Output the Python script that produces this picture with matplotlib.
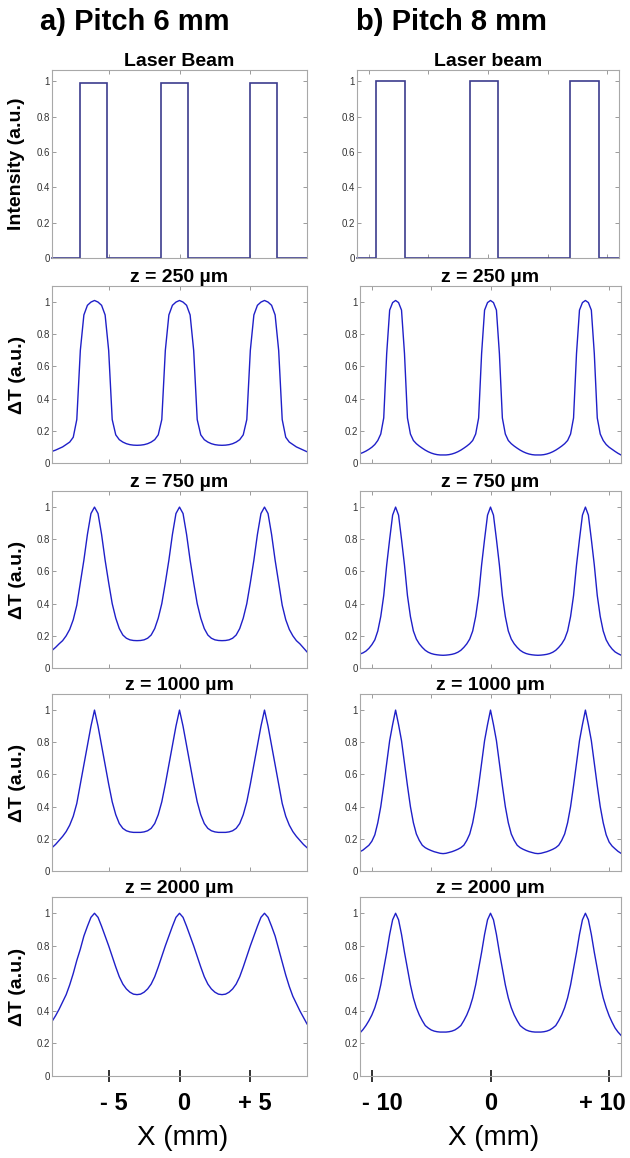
import numpy as np
import matplotlib
matplotlib.use("Agg")
import matplotlib.pyplot as plt
import matplotlib.transforms as mtransforms

plt.rcParams['font.family'] = ['Liberation Sans', 'DejaVu Sans']

# ---------------- data ----------------
col_titles = ["a) Pitch 6 mm", "b) Pitch 8 mm"]
row_titles_left = ["Laser Beam", "z = 250 µm", "z = 750 µm", "z = 1000 µm", "z = 2000 µm"]
row_titles_right = ["Laser beam", "z = 250 µm", "z = 750 µm", "z = 1000 µm", "z = 2000 µm"]
ytick_vals = [0, 0.2, 0.4, 0.6, 0.8, 1]
ytick_labels = ["0", "0.2", "0.4", "0.6", "0.8", "1"]

# laser beam (top hat) edges in mm
beam_left_start = [-7.0, -1.3, 4.95]
beam_left_end = [-5.1, 0.6, 6.9]
beam_left_height = 0.99
beam_right_start = [-9.37, -1.55, 6.9]
beam_right_end = [-6.97, 0.8, 9.28]
beam_right_height = 1.0

# x sampling grids (mm)
x_left = np.arange(-9, 9.001, 0.25)
x_right = np.arange(-11, 11.001, 0.25)

# pitch 6 mm, normalised temperature rise
L250 = [0.072, 0.08, 0.09, 0.10, 0.115, 0.13, 0.16, 0.27, 0.70, 0.92, 0.98, 1.0,
        1.01,
        1.0, 0.98, 0.92, 0.70, 0.27, 0.175, 0.145, 0.13, 0.12, 0.114, 0.111, 0.11,
        0.111, 0.114, 0.12, 0.13, 0.145, 0.175, 0.27, 0.70, 0.92, 0.98, 1.0,
        1.01,
        1.0, 0.98, 0.92, 0.70, 0.27, 0.175, 0.145, 0.13, 0.12, 0.114, 0.111,
        0.11,
        0.111, 0.114, 0.12, 0.13, 0.145, 0.175, 0.27, 0.70, 0.92, 0.98, 1.0,
        1.01,
        1.0, 0.98, 0.92, 0.70, 0.27, 0.16, 0.13, 0.115, 0.10, 0.09, 0.08, 0.07]
L750 = [0.109, 0.128, 0.15, 0.17, 0.20, 0.24, 0.30, 0.39, 0.53, 0.67, 0.83, 0.96,
        1.0,
        0.96, 0.83, 0.67, 0.53, 0.40, 0.31, 0.245, 0.205, 0.185, 0.175, 0.171, 0.17,
        0.171, 0.175, 0.185, 0.205, 0.245, 0.31, 0.40, 0.53, 0.67, 0.83, 0.96,
        1.0,
        0.96, 0.83, 0.67, 0.53, 0.40, 0.31, 0.245, 0.205, 0.185, 0.175, 0.171,
        0.17,
        0.171, 0.175, 0.185, 0.205, 0.245, 0.31, 0.40, 0.53, 0.67, 0.83, 0.96,
        1.0,
        0.96, 0.83, 0.67, 0.53, 0.39, 0.30, 0.24, 0.20, 0.17, 0.15, 0.125, 0.10]
L1000 = [0.145, 0.165, 0.19, 0.215, 0.245, 0.285, 0.34, 0.42, 0.54, 0.66, 0.78, 0.90,
         1.0,
         0.90, 0.78, 0.66, 0.54, 0.43, 0.35, 0.295, 0.265, 0.25, 0.243, 0.24, 0.24,
         0.24, 0.243, 0.25, 0.265, 0.295, 0.35, 0.43, 0.54, 0.66, 0.78, 0.90,
         1.0,
         0.90, 0.78, 0.66, 0.54, 0.43, 0.35, 0.295, 0.265, 0.25, 0.243, 0.24,
         0.24,
         0.24, 0.243, 0.25, 0.265, 0.295, 0.35, 0.43, 0.54, 0.66, 0.78, 0.90,
         1.0,
         0.90, 0.78, 0.66, 0.54, 0.42, 0.34, 0.285, 0.245, 0.215, 0.19, 0.165, 0.145]
L2000 = [0.335, 0.37, 0.41, 0.455, 0.50, 0.56, 0.63, 0.71, 0.78, 0.86, 0.92, 0.975,
         1.0,
         0.975, 0.92, 0.86, 0.80, 0.735, 0.67, 0.61, 0.565, 0.535, 0.515, 0.503, 0.50,
         0.503, 0.515, 0.535, 0.565, 0.61, 0.67, 0.735, 0.80, 0.86, 0.92, 0.975,
         1.0,
         0.975, 0.92, 0.86, 0.80, 0.735, 0.67, 0.61, 0.565, 0.535, 0.515, 0.503,
         0.50,
         0.503, 0.515, 0.535, 0.565, 0.61, 0.67, 0.735, 0.80, 0.86, 0.92, 0.975,
         1.0,
         0.975, 0.92, 0.86, 0.78, 0.70, 0.62, 0.55, 0.49, 0.445, 0.40, 0.36, 0.32]

# pitch 8 mm, normalised temperature rise
R250 = [0.058, 0.065, 0.074, 0.085, 0.098, 0.115, 0.14, 0.18, 0.28, 0.68, 0.95, 0.997,
        1.01,
        0.997, 0.95, 0.68, 0.28, 0.18, 0.14, 0.12, 0.105, 0.092, 0.08, 0.07, 0.062, 0.056, 0.052, 0.05, 0.05,
        0.05, 0.052, 0.056, 0.062, 0.07, 0.08, 0.092, 0.105, 0.12, 0.14, 0.18, 0.28, 0.68, 0.95, 0.997,
        1.01,
        0.997, 0.95, 0.68, 0.28, 0.18, 0.14, 0.12, 0.105, 0.092, 0.08, 0.07, 0.062, 0.056, 0.052, 0.05,
        0.05,
        0.05, 0.052, 0.056, 0.062, 0.07, 0.08, 0.092, 0.105, 0.12, 0.14, 0.18, 0.28, 0.68, 0.95, 0.997,
        1.01,
        0.997, 0.95, 0.68, 0.28, 0.18, 0.14, 0.115, 0.098, 0.085, 0.072, 0.06, 0.05]
R750 = [0.087, 0.094, 0.105, 0.122, 0.145, 0.175, 0.23, 0.32, 0.45, 0.64, 0.80, 0.95,
        1.0,
        0.95, 0.80, 0.64, 0.45, 0.32, 0.23, 0.18, 0.15, 0.128, 0.11, 0.098, 0.09, 0.085, 0.082, 0.08, 0.079,
        0.08, 0.082, 0.085, 0.09, 0.098, 0.11, 0.128, 0.15, 0.18, 0.23, 0.32, 0.45, 0.64, 0.80, 0.95,
        1.0,
        0.95, 0.80, 0.64, 0.45, 0.32, 0.23, 0.18, 0.15, 0.128, 0.11, 0.098, 0.09, 0.085, 0.082, 0.08,
        0.079,
        0.08, 0.082, 0.085, 0.09, 0.098, 0.11, 0.128, 0.15, 0.18, 0.23, 0.32, 0.45, 0.64, 0.80, 0.95,
        1.0,
        0.95, 0.80, 0.64, 0.45, 0.32, 0.23, 0.175, 0.142, 0.118, 0.10, 0.089, 0.08]
R1000 = [0.12, 0.13, 0.145, 0.16, 0.185, 0.225, 0.30, 0.40, 0.53, 0.67, 0.81, 0.91,
         1.0,
         0.91, 0.81, 0.67, 0.53, 0.40, 0.30, 0.23, 0.19, 0.16, 0.145, 0.135, 0.127, 0.12, 0.115, 0.11, 0.108,
         0.11, 0.115, 0.12, 0.127, 0.135, 0.145, 0.16, 0.19, 0.23, 0.30, 0.40, 0.53, 0.67, 0.81, 0.91,
         1.0,
         0.91, 0.81, 0.67, 0.53, 0.40, 0.30, 0.23, 0.19, 0.16, 0.145, 0.135, 0.127, 0.12, 0.115, 0.11,
         0.108,
         0.11, 0.115, 0.12, 0.127, 0.135, 0.145, 0.16, 0.19, 0.23, 0.30, 0.40, 0.53, 0.67, 0.81, 0.91,
         1.0,
         0.91, 0.81, 0.67, 0.53, 0.40, 0.30, 0.225, 0.18, 0.155, 0.138, 0.122, 0.11]
R2000 = [0.265, 0.285, 0.31, 0.34, 0.375, 0.42, 0.48, 0.56, 0.66, 0.76, 0.87, 0.96,
         1.0,
         0.96, 0.87, 0.76, 0.66, 0.56, 0.48, 0.42, 0.375, 0.34, 0.31, 0.295, 0.283, 0.276, 0.272, 0.27, 0.27,
         0.27, 0.272, 0.276, 0.283, 0.295, 0.31, 0.34, 0.375, 0.42, 0.48, 0.56, 0.66, 0.76, 0.87, 0.96,
         1.0,
         0.96, 0.87, 0.76, 0.66, 0.56, 0.48, 0.42, 0.375, 0.34, 0.31, 0.295, 0.283, 0.276, 0.272, 0.27,
         0.27,
         0.27, 0.272, 0.276, 0.283, 0.295, 0.31, 0.34, 0.375, 0.42, 0.48, 0.56, 0.66, 0.76, 0.87, 0.96,
         1.0,
         0.96, 0.87, 0.76, 0.66, 0.56, 0.48, 0.42, 0.37, 0.33, 0.295, 0.27, 0.25]

left_curves = [L250, L750, L1000, L2000]
right_curves = [R250, R750, R1000, R2000]

bottom_ticks_left = [-5, 0, 5]
bottom_labels_left = ["- 5", "0", "+ 5"]
bottom_ticks_right = [-10, 0, 10]
bottom_labels_right = ["- 10", "0", "+ 10"]

# ---------------- layout ----------------
W, H = 630, 1158
fig = plt.figure(figsize=(W / 100, H / 100), dpi=100)
fig.patch.set_facecolor("white")


def axes_px(l, r, t, b):
    return fig.add_axes([l / W, 1 - b / H, (r - l) / W, (b - t) / H])


rows = [(70, 258), (286, 463), (491, 668), (694, 871), (897, 1076)]
cols = [(52, 307), (360, 621)]
top_right_cols = (357, 619)
# hand-placed label shifts (pixels) seen in the reference
label_shift = [[5, 4, 4], [11, 0, -7]]

LINE_C = "#1f1fc8"
BEAM_C = "#3c3c8e"
SPINE_C = "#a8a8a8"


def style(ax, xlim, xticks, ylim):
    ax.set_xlim(*xlim)
    ax.set_ylim(*ylim)
    ax.set_yticks(ytick_vals)
    ax.set_yticklabels(ytick_labels)
    ax.set_xticks(xticks)
    ax.set_xticklabels([])
    ax.tick_params(direction="in", length=3, width=0.6, color="#8a8a8a",
                   top=True, right=True, labelsize=7, labelcolor="#333333", pad=1.5)
    for s in ax.spines.values():
        s.set_color(SPINE_C)
        s.set_linewidth(0.8)


def beam_path(starts, ends, h, xmin, xmax):
    xs, ys = [xmin], [0]
    for s, e in zip(starts, ends):
        xs += [s, s, e, e]
        ys += [0, h, h, 0]
    xs.append(xmax)
    ys.append(0)
    return xs, ys


col_specs = [
    dict(x=x_left, curves=left_curves, xlim=(-9, 9), xticks=[-5, 0, 5],
         bstart=beam_left_start, bend=beam_left_end, bh=beam_left_height,
         titles=row_titles_left, bt=bottom_ticks_left, bl=bottom_labels_left),
    dict(x=x_right, curves=right_curves, xlim=(-11, 11), xticks=[-10, -5, 0, 5, 10],
         bstart=beam_right_start, bend=beam_right_end, bh=beam_right_height,
         titles=row_titles_right, bt=bottom_ticks_right, bl=bottom_labels_right),
]

for ci, spec in enumerate(col_specs):
    l, r = cols[ci]
    for ri, (t, b) in enumerate(rows):
        if ri == 0 and ci == 1:
            ax = axes_px(top_right_cols[0], top_right_cols[1], t, b)
        else:
            ax = axes_px(l, r, t, b)
        if ri == 0:
            style(ax, spec["xlim"], spec["xticks"], (0, 1.065))
            bx, by = beam_path(spec["bstart"], spec["bend"], spec["bh"], *spec["xlim"])
            ax.plot(bx, by, color=BEAM_C, lw=1.2, solid_joinstyle="miter", clip_on=False)
            ax.set_title(spec["titles"][ri], fontsize=14, fontweight="bold", pad=3)
        else:
            style(ax, spec["xlim"], spec["xticks"], (0, 1.1))
            ax.plot(spec["x"], spec["curves"][ri - 1], color=LINE_C, lw=1.0)
            ax.set_title(spec["titles"][ri], fontsize=14, fontweight="bold", pad=1.5)
        if ci == 0:
            lab = "Intensity (a.u.)" if ri == 0 else "ΔT (a.u.)"
            fig.text(17 / W, 1 - ((t + b) / 2) / H, lab, rotation=90, fontsize=14,
                     fontweight="bold", ha="center", va="center")
        if ri == len(rows) - 1:
            ax.set_xticks(spec["bt"])
            ax.set_xticklabels(spec["bl"])
            ax.tick_params(axis="x", which="major", direction="inout", length=9, width=1.4,
                           color="#333333", top=False, labelsize=17, labelcolor="black", pad=7)
            for tl, dx in zip(ax.get_xticklabels(), label_shift[ci]):
                tl.set_fontweight("bold")
                tl.set_transform(tl.get_transform() +
                                 mtransforms.ScaledTranslation(dx / 100, 0, fig.dpi_scale_trans))
            fig.text(((l + r) / 2 + 3) / W, 1 - 1138 / H, "X (mm)", fontsize=20,
                     ha="center", va="center")

fig.text(135 / W, 1 - 30 / H, col_titles[0], fontsize=21, fontweight="bold",
         ha="center", va="baseline")
fig.text(451 / W, 1 - 30 / H, col_titles[1], fontsize=21, fontweight="bold",
         ha="center", va="baseline")

fig.savefig("out.png", dpi=100, facecolor="white")
